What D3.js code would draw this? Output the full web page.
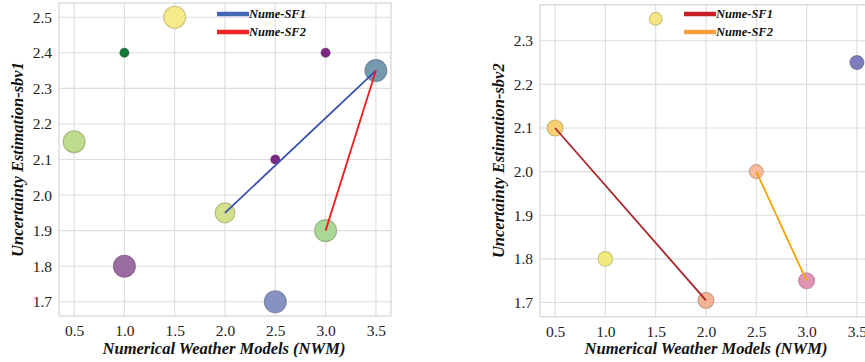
<!DOCTYPE html>
<html><head><meta charset="utf-8">
<script src="https://cdn.jsdelivr.net/npm/d3@7"></script>
<style>body{margin:0;background:#fff;} svg{display:block;}</style>
</head><body>
<svg id="c" width="865" height="362"></svg>
<script>
// ---- Data ----
const xTicks = [0.5, 1.0, 1.5, 2.0, 2.5, 3.0, 3.5];

// Left panel (sbv1)
const leftX     = [0.5, 1.0, 1.5, 1.0, 2.0, 2.5, 2.5, 3.0, 3.0, 3.5];
const leftY     = [2.15, 2.4, 2.5, 1.8, 1.95, 2.1, 1.7, 2.4, 1.9, 2.35];
const leftSize  = [11, 4.5, 11, 11, 10, 4.5, 11, 4.5, 11, 11];
const leftColor = ["#bddc8c", "#127a36", "#f6ea8a", "#9b6ca2", "#d3e08c", "#7b2a84", "#8592c2", "#7b2a84", "#a9d795", "#7799b0"];
const leftYTicks = [1.7, 1.8, 1.9, 2.0, 2.1, 2.2, 2.3, 2.4, 2.5];
const leftSeries = ["Nume-SF1", "Nume-SF2"];
const leftLineX = [[2.0, 3.5], [3.0, 3.5]];
const leftLineY = [[1.95, 2.35], [1.9, 2.35]];
const leftLineColor = ["#3a4fb0", "#ee1c1c"];
const leftLegendColor = ["#4468b8", "#ee2424"];

// Right panel (sbv2)
const rightX     = [0.5, 1.0, 1.5, 2.0, 2.5, 3.0, 3.5];
const rightY     = [2.1, 1.8, 2.35, 1.705, 2.0, 1.75, 2.25];
const rightSize  = [8, 7.3, 6.5, 8, 7, 8, 7];
const rightColor = ["#f8d074", "#f1ea7c", "#f5e682", "#f4b394", "#f6b99c", "#e194b4", "#7d7cbc"];
const rightYTicks = [1.7, 1.8, 1.9, 2.0, 2.1, 2.2, 2.3];
const rightSeries = ["Nume-SF1", "Nume-SF2"];
const rightLineX = [[0.5, 2.0], [2.5, 3.0]];
const rightLineY = [[2.1, 1.705], [2.0, 1.75]];
const rightLineColor = ["#a8232a", "#f5a300"];
const rightLegendColor = ["#c62027", "#f8a040"];

const svg = d3.select("#c");
const serif = "'Liberation Serif','Times New Roman',serif";

function panel(cfg) {
  const g = svg.append("g");
  const x = d3.scaleLinear().domain([0.35, 3.65]).range([cfg.left, cfg.left + 332]);
  const y = d3.scaleLinear().domain(cfg.yDomain).range([cfg.bottom, cfg.top]);
  const [x0, x1] = x.range();
  // grid
  g.append("g").selectAll("line").data(xTicks).join("line")
    .attr("x1", d => x(d)).attr("x2", d => x(d)).attr("y1", cfg.top).attr("y2", cfg.bottom)
    .attr("stroke", "#dddddd").attr("stroke-width", 1.1);
  g.append("g").selectAll("line").data(cfg.yTicks).join("line")
    .attr("x1", x0).attr("x2", x1).attr("y1", d => y(d)).attr("y2", d => y(d))
    .attr("stroke", "#dddddd").attr("stroke-width", 1.1);
  // frame
  g.append("rect").attr("x", x0).attr("y", cfg.top).attr("width", x1 - x0).attr("height", cfg.bottom - cfg.top)
    .attr("fill", "none").attr("stroke", "#d4d4d4").attr("stroke-width", 1.2);
  // axes (labels only)
  const xa = g.append("g").attr("transform", `translate(0,${cfg.bottom})`)
    .call(d3.axisBottom(x).tickValues(xTicks).tickFormat(d3.format(".1f")).tickSize(0).tickPadding(9));
  const ya = g.append("g").attr("transform", `translate(${x0},0)`)
    .call(d3.axisLeft(y).tickValues(cfg.yTicks).tickFormat(d3.format(".1f")).tickSize(0).tickPadding(7));
  [xa, ya].forEach(a => {
    a.select(".domain").remove();
    a.selectAll("text").attr("font-family", serif).attr("font-size", 15.5).attr("fill", "#222");
  });
  // scatter
  const idx = d3.range(cfg.px.length);
  g.append("g").selectAll("circle").data(idx).join("circle")
    .attr("cx", i => x(cfg.px[i])).attr("cy", i => y(cfg.py[i])).attr("r", i => cfg.ps[i])
    .attr("fill", i => cfg.pc[i])
    .attr("stroke", i => d3.color(cfg.pc[i]).darker(1.0)).attr("stroke-opacity", 0.6).attr("stroke-width", 1.1);
  // lines
  cfg.lx.forEach((lx, k) => {
    const pts = lx.map((v, j) => [x(v), y(cfg.ly[k][j])]);
    g.append("path").attr("d", d3.line()(pts)).attr("fill", "none")
      .attr("stroke", cfg.lc[k]).attr("stroke-width", 1.8);
  });
  // legend
  cfg.series.forEach((s, k) => {
    const yy = 14 + k * 18;
    g.append("line").attr("x1", cfg.legX).attr("x2", cfg.legX + 32).attr("y1", yy).attr("y2", yy)
      .attr("stroke", cfg.legC[k]).attr("stroke-width", 4.5);
    g.append("text").attr("x", cfg.legX + 32).attr("y", yy).attr("dy", "0.35em")
      .attr("font-family", serif).attr("font-weight", "bold").attr("font-style", "italic")
      .attr("font-size", 12.5).attr("fill", "#111").text(s);
  });
  // axis titles
  g.append("text").attr("x", cfg.xLabelX).attr("y", 354)
    .attr("text-anchor", "middle").attr("font-family", serif).attr("font-weight", "bold")
    .attr("font-style", "italic").attr("font-size", 16.5).attr("fill", "#111").text("Numerical Weather Models (NWM)");
  g.append("text").attr("transform", `translate(${cfg.yLabelX},${(cfg.top + cfg.bottom) / 2}) rotate(-90)`)
    .attr("text-anchor", "middle").attr("dy", "0.35em").attr("font-family", serif).attr("font-weight", "bold")
    .attr("font-style", "italic").attr("font-size", 16.5).attr("fill", "#111").text(cfg.yLabel);
}

panel({left: 59, top: 3, bottom: 316, yDomain: [1.66, 2.54], yTicks: leftYTicks,
  px: leftX, py: leftY, ps: leftSize, pc: leftColor,
  lx: leftLineX, ly: leftLineY, lc: leftLineColor,
  series: leftSeries, legC: leftLegendColor, legX: 217, xLabelX: 224,
  yLabelX: 17, yLabel: "Uncertainty Estimation-sbv1"});

panel({left: 540, top: 4.7, bottom: 316.7, yDomain: [1.6675, 2.3825], yTicks: rightYTicks,
  px: rightX, py: rightY, ps: rightSize, pc: rightColor,
  lx: rightLineX, ly: rightLineY, lc: rightLineColor,
  series: rightSeries, legC: rightLegendColor, legX: 684, xLabelX: 706,
  yLabelX: 498, yLabel: "Uncertainty Estimation-sbv2"});
</script>
</body></html>
